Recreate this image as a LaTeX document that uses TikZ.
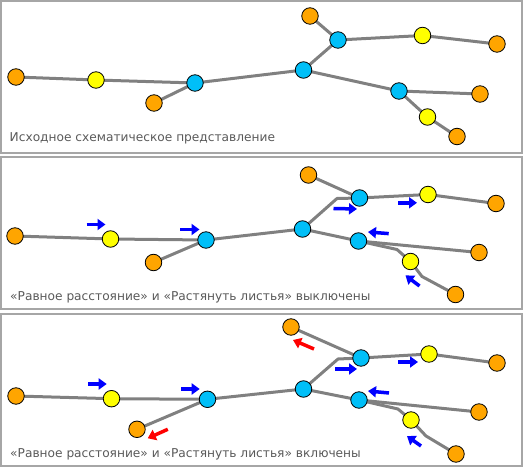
\documentclass[tikz,border=0pt]{standalone}
\usepackage{fontspec}
\setmainfont{DejaVu Sans}
\usetikzlibrary{arrows.meta,backgrounds}
\definecolor{nodeor}{HTML}{FFA500}
\definecolor{nodeye}{HTML}{FFFF00}
\definecolor{nodebl}{HTML}{00BFF8}
\definecolor{edgegr}{HTML}{808080}
\definecolor{panelgr}{HTML}{A6A6A6}
\definecolor{textgr}{HTML}{595959}
\definecolor{arrbl}{HTML}{0000FF}
\definecolor{arrrd}{HTML}{FF0000}
\tikzset{
  vtx/.style={circle, draw=black, line width=0.8pt, minimum size=16.5pt, inner sep=0pt},
  orn/.style={vtx, fill=nodeor},
  yel/.style={vtx, fill=nodeye},
  blu/.style={vtx, fill=nodebl},
  edge/.style={draw=edgegr, line width=3pt, line join=round},
  panel/.style={draw=panelgr, line width=2pt},
  caption/.style={anchor=base west, inner sep=0pt, text=textgr, font=\fontsize{12.2}{14}\selectfont},
  barrow/.style={draw=arrbl, line width=3.5pt, -{Triangle[length=8pt,width=11pt]}},
  rarrow/.style={draw=arrrd, line width=3.5pt, -{Triangle[length=8pt,width=11pt]}}
}
\begin{document}
\begin{tikzpicture}[x=1pt,y=-1pt]
\useasboundingbox (0,0) rectangle (525,470);
% panels
\draw[panel] (1,1) rectangle (522,153);
\draw[panel] (1,157.5) rectangle (522,309);
\draw[panel] (1,314) rectangle (522,466);

% ---------- Panel 1 ----------
\node[orn] (ao1) at (16,77) {};
\node[yel] (ay1) at (96,80) {};
\node[blu] (ab1) at (195,83) {};
\node[orn] (ao2) at (154,103) {};
\node[blu] (ab2) at (303.5,70) {};
\node[blu] (ab3) at (338,40) {};
\node[orn] (ao3) at (310,16) {};
\node[yel] (ay2) at (422.5,35.5) {};
\node[orn] (ao4) at (497,44) {};
\node[blu] (ab4) at (399,91) {};
\node[orn] (ao5) at (480,94) {};
\node[yel] (ay3) at (427.5,117) {};
\node[orn] (ao6) at (457,136.5) {};
\begin{pgfonlayer}{background}
\draw[edge] (ao1.center) -- (ay1.center) -- (ab1.center) -- (ab2.center) -- (ab3.center) -- (ay2.center) -- (ao4.center);
\draw[edge] (ab1.center) -- (ao2.center);
\draw[edge] (ab3.center) -- (ao3.center);
\draw[edge] (ab2.center) -- (ab4.center) -- (ao5.center);
\draw[edge] (ab4.center) -- (ay3.center) -- (ao6.center);
\end{pgfonlayer}
\node[caption] (acap) at (9.5,141.7) {Исходное схематическое представление};

% ---------- Panel 2 ----------
\node[orn] (bo1) at (15,236) {};
\node[yel] (by1) at (110.5,239) {};
\node[blu] (bb1) at (206,240) {};
\node[orn] (bo2) at (153.5,262.5) {};
\node[blu] (bb2) at (302.5,229) {};
\node[blu] (bb3) at (359.5,198) {};
\node[orn] (bo3) at (308.5,175) {};
\node[yel] (by2) at (428,194.5) {};
\node[orn] (bo4) at (496,203.5) {};
\node[blu] (bb4) at (358.5,241) {};
\node[orn] (bo5) at (479,252.5) {};
\node[yel] (by3) at (410.5,261.5) {};
\node[orn] (bo6) at (455.5,294.5) {};
\coordinate (bk1) at (337,198.5);
\coordinate (bk2) at (397,249.5);
\coordinate (bk3) at (422,276.5);
\begin{pgfonlayer}{background}
\draw[edge] (bo1.center) -- (by1.center) -- (bb1.center) -- (bb2.center) -- (bk1) -- (bb3.center) -- (by2.center) -- (bo4.center);
\draw[edge] (bb1.center) -- (bo2.center);
\draw[edge] (bb3.center) -- (bo3.center);
\draw[edge] (bb2.center) -- (bb4.center) -- (bo5.center);
\draw[edge] (bb4.center) -- (bk2) -- (by3.center) -- (bk3) -- (bo6.center);
\end{pgfonlayer}
\coordinate (ba1s) at (86.5,224.5); \coordinate (ba1e) at (105.5,224.5);
\coordinate (ba2s) at (180,229.5); \coordinate (ba2e) at (199.5,229.5);
\coordinate (ba3s) at (333.5,208.5); \coordinate (ba3e) at (357,209);
\coordinate (ba4s) at (398,202.8); \coordinate (ba4e) at (417,202.8);
\coordinate (ba5s) at (388.7,233.6); \coordinate (ba5e) at (368,232);
\coordinate (ba6s) at (419.5,286); \coordinate (ba6e) at (405.5,275.4);
\draw[barrow] (ba1s) -- (ba1e);
\draw[barrow] (ba2s) -- (ba2e);
\draw[barrow] (ba3s) -- (ba3e);
\draw[barrow] (ba4s) -- (ba4e);
\draw[barrow] (ba5s) -- (ba5e);
\draw[barrow] (ba6s) -- (ba6e);
\node[caption] (bcap) at (10,301) {«Равное расстояние» и «Растянуть листья» выключены};

% ---------- Panel 3 ----------
\node[orn] (co1) at (16,396) {};
\node[yel] (cy1) at (111.5,398.7) {};
\node[blu] (cb1) at (207.5,399.3) {};
\node[orn] (co2) at (137,429.3) {};
\node[blu] (cb2) at (303.5,389) {};
\node[blu] (cb3) at (361,358) {};
\node[orn] (co3) at (291,327) {};
\node[yel] (cy2) at (429,354) {};
\node[orn] (co4) at (497,363) {};
\node[blu] (cb4) at (359,400) {};
\node[orn] (co5) at (479,412) {};
\node[yel] (cy3) at (411,420) {};
\node[orn] (co6) at (456,454) {};
\coordinate (ck1) at (338,359);
\coordinate (ck2) at (398,409);
\coordinate (ck3) at (426,436);
\begin{pgfonlayer}{background}
\draw[edge] (co1.center) -- (cy1.center) -- (cb1.center) -- (cb2.center) -- (ck1) -- (cb3.center) -- (cy2.center) -- (co4.center);
\draw[edge] (cb1.center) -- (co2.center);
\draw[edge] (cb3.center) -- (co3.center);
\draw[edge] (cb2.center) -- (cb4.center) -- (co5.center);
\draw[edge] (cb4.center) -- (ck2) -- (cy3.center) -- (ck3) -- (co6.center);
\end{pgfonlayer}
\coordinate (ca1s) at (88,384); \coordinate (ca1e) at (106.7,384);
\coordinate (ca2s) at (181,389); \coordinate (ca2e) at (199.7,389);
\coordinate (ca3s) at (335,369); \coordinate (ca3e) at (357,369);
\coordinate (ca4s) at (398,362); \coordinate (ca4e) at (418,362);
\coordinate (ca5s) at (389,393); \coordinate (ca5e) at (368,391);
\coordinate (ca6s) at (421,446); \coordinate (ca6e) at (407,436);
\coordinate (cr1s) at (314,349); \coordinate (cr1e) at (293,340);
\coordinate (cr2s) at (167.8,429.3); \coordinate (cr2e) at (147.7,438.3);
\draw[barrow] (ca1s) -- (ca1e);
\draw[barrow] (ca2s) -- (ca2e);
\draw[barrow] (ca3s) -- (ca3e);
\draw[barrow] (ca4s) -- (ca4e);
\draw[barrow] (ca5s) -- (ca5e);
\draw[barrow] (ca6s) -- (ca6e);
\draw[rarrow] (cr1s) -- (cr1e);
\draw[rarrow] (cr2s) -- (cr2e);
\node[caption] (ccap) at (10,457.5) {«Равное расстояние» и «Растянуть листья» включены};
\end{tikzpicture}
\end{document}
